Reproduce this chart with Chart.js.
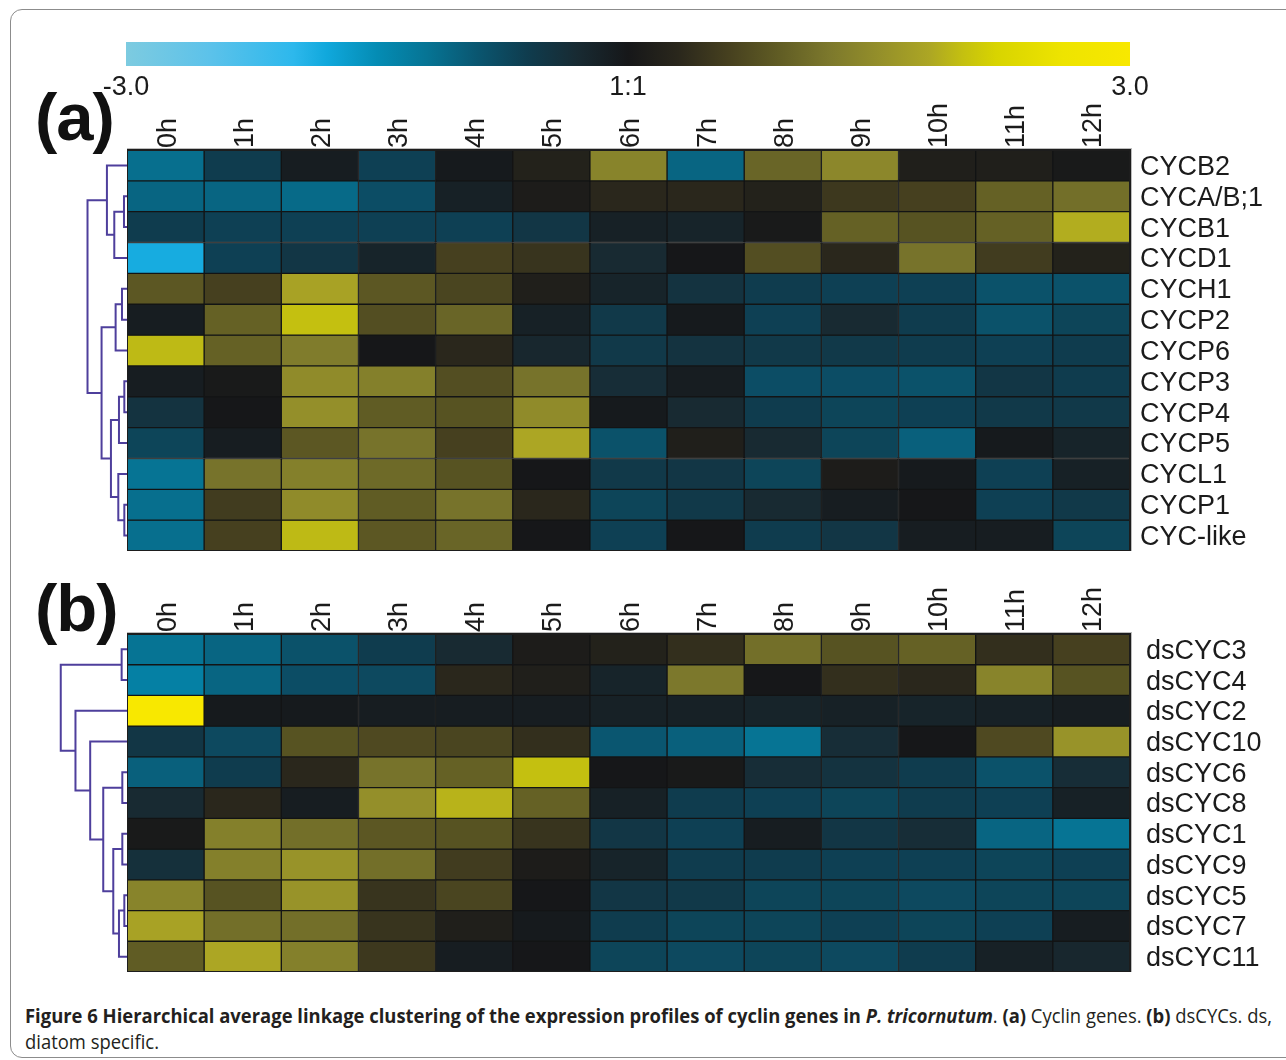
<!DOCTYPE html>
<html>
<head>
<meta charset="utf-8">
<script src="https://cdn.jsdelivr.net/npm/chart.js@4.4.1/dist/chart.umd.min.js"></script>
<style>
    html, body { margin: 0; padding: 0; background: #fff; }
    body { width: 1286px; height: 1060px; position: relative; overflow: hidden; }
    .frame { position: absolute; left: 10px; top: 9px; width: 1320px; height: 1049px; border: 1px solid #8c8c8c; border-radius: 12px; box-sizing: border-box; }
    canvas { position: absolute; }
    .panel-tag { position: absolute; font: bold 67px 'Liberation Sans', Arial, sans-serif; line-height: 67px; color: #111; letter-spacing: -1px; }
    .caption { position: absolute; left: 25px; font-family: 'Open Sans', sans-serif; font-size: 20px; line-height: 26px; color: #231f20; white-space: nowrap; transform-origin: 0 0; }
</style>
</head>
<body>
<div class="frame"></div>
<canvas id="colorbar" width="1064" height="62" style="left:96px;top:42px"></canvas>

<div class="panel-tag" style="left:35px;top:83px">(a)</div>
<canvas id="dendroA" width="87" height="401" style="left:40px;top:150px"></canvas>
<canvas id="heatA" width="1159" height="461" style="left:127px;top:90px"></canvas>

<div class="panel-tag" style="left:35px;top:574px">(b)</div>
<canvas id="dendroB" width="87" height="338" style="left:40px;top:634px"></canvas>
<canvas id="heatB" width="1159" height="398" style="left:127px;top:574px"></canvas>

<div class="caption" id="cap1" style="top:1003px"><b>Figure 6 Hierarchical average linkage clustering of the expression profiles of cyclin genes in <i>P. tricornutum</i></b>. <b>(a)</b> Cyclin genes. <b>(b)</b> dsCYCs. ds,</div>
<div class="caption" id="cap2" style="top:1029px">diatom specific.</div>

<script>
// time points (columns) and gene names (rows)
const hours = ['0h', '1h', '2h', '3h', '4h', '5h', '6h', '7h', '8h', '9h', '10h', '11h', '12h'];
const cyclinGenes = ['CYCB2', 'CYCA/B;1', 'CYCB1', 'CYCD1', 'CYCH1', 'CYCP2', 'CYCP6', 'CYCP3', 'CYCP4', 'CYCP5', 'CYCL1', 'CYCP1', 'CYC-like'];
const dsGenes = ['dsCYC3', 'dsCYC4', 'dsCYC2', 'dsCYC10', 'dsCYC6', 'dsCYC8', 'dsCYC1', 'dsCYC9', 'dsCYC5', 'dsCYC7', 'dsCYC11'];

// log ratios, one row per gene
const cyclinRatios = [
    [-1.15, -0.6, -0.1, -0.65, -0.05, 0.2, 1.35, -1.05, 1.0, 1.4, 0.15, 0.15, 0.05],
    [-1.05, -1.05, -1.1, -0.8, -0.15, 0.1, 0.3, 0.3, 0.2, 0.5, 0.6, 0.95, 1.1],
    [-0.6, -0.65, -0.65, -0.65, -0.65, -0.5, -0.15, -0.2, 0.05, 0.95, 0.8, 0.95, 1.85],
    [-1.85, -0.65, -0.5, -0.2, 0.6, 0.45, -0.3, 0.0, 0.75, 0.3, 1.15, 0.55, 0.2],
    [0.85, 0.6, 1.75, 0.85, 0.65, 0.15, -0.2, -0.45, -0.6, -0.65, -0.65, -0.85, -0.85],
    [-0.1, 0.95, 2.0, 0.75, 1.0, -0.15, -0.55, -0.05, -0.65, -0.3, -0.6, -0.85, -0.7],
    [1.95, 0.95, 1.25, 0.0, 0.3, -0.25, -0.55, -0.45, -0.55, -0.55, -0.6, -0.65, -0.6],
    [-0.1, 0.05, 1.45, 1.3, 0.75, 1.15, -0.35, -0.1, -0.8, -0.8, -0.85, -0.5, -0.6],
    [-0.45, 0.0, 1.5, 0.9, 0.8, 1.45, -0.05, -0.3, -0.6, -0.7, -0.65, -0.55, -0.55],
    [-0.7, -0.1, 0.85, 1.15, 0.6, 1.8, -0.85, 0.15, -0.3, -0.7, -1.0, -0.05, -0.2],
    [-1.2, 1.15, 1.3, 1.05, 0.8, 0.0, -0.55, -0.5, -0.7, 0.1, -0.05, -0.65, -0.15],
    [-1.15, 0.55, 1.45, 0.9, 1.15, 0.3, -0.7, -0.55, -0.3, -0.1, 0.0, -0.65, -0.55],
    [-1.15, 0.6, 1.95, 0.85, 1.0, 0.0, -0.65, 0.0, -0.6, -0.5, -0.1, -0.1, -0.7],
];
const dsRatios = [
    [-1.2, -1.05, -0.85, -0.6, -0.3, 0.1, 0.2, 0.4, 1.1, 0.8, 0.95, 0.4, 0.6],
    [-1.35, -1.05, -0.8, -0.75, 0.3, 0.15, -0.2, 1.2, 0.0, 0.4, 0.3, 1.35, 0.8],
    [3.0, -0.05, -0.05, -0.1, -0.1, -0.1, -0.15, -0.15, -0.2, -0.15, -0.2, -0.15, -0.1],
    [-0.5, -0.75, 0.8, 0.7, 0.65, 0.4, -0.9, -1.0, -1.2, -0.35, 0.0, 0.7, 1.55],
    [-1.0, -0.6, 0.3, 1.15, 0.95, 2.0, 0.0, 0.05, -0.35, -0.45, -0.6, -0.85, -0.35],
    [-0.3, 0.3, -0.1, 1.5, 1.9, 0.95, -0.15, -0.6, -0.65, -0.7, -0.6, -0.65, -0.15],
    [0.05, 1.3, 1.1, 0.85, 0.8, 0.45, -0.5, -0.65, -0.1, -0.5, -0.35, -1.05, -1.2],
    [-0.4, 1.3, 1.55, 1.1, 0.55, 0.1, -0.2, -0.6, -0.6, -0.65, -0.65, -0.7, -0.65],
    [1.35, 0.8, 1.55, 0.45, 0.65, 0.0, -0.5, -0.55, -0.7, -0.7, -0.75, -0.7, -0.7],
    [1.75, 1.1, 1.1, 0.45, 0.15, -0.05, -0.6, -0.7, -0.7, -0.65, -0.7, -0.65, -0.1],
    [0.9, 1.8, 1.3, 0.5, -0.1, 0.0, -0.7, -0.75, -0.7, -0.75, -0.6, -0.15, -0.25],
];

// dendrograms: [left node, right node, merge height]; nodes >= n are earlier merges
const cyclinLinkage = [
    [1, 2, 0.045], [13, 3, 0.19], [0, 14, 0.30],
    [4, 5, 0.075], [16, 6, 0.17],
    [7, 8, 0.04], [18, 9, 0.12], [11, 12, 0.04], [10, 20, 0.13], [19, 21, 0.24],
    [17, 22, 0.38], [15, 23, 0.59],
];
const dsLinkage = [
    [0, 1, 0.08], [8, 9, 0.04], [12, 10, 0.12], [6, 7, 0.07], [14, 13, 0.205],
    [4, 5, 0.07], [16, 15, 0.355], [3, 17, 0.55], [2, 18, 0.77], [11, 19, 0.99],
];

// colour key
const colorStopValues = [-3, -2.5, -2, -1.8, -1.5, -1.2, -0.9, -0.6, -0.3, 0, 0.3, 0.6, 0.9, 1.2, 1.5, 1.8, 2.0, 2.2, 2.6, 3];
const colorStopColors = ['#7dcbe0', '#5cc2ea', '#2db8ec', '#10a8dc', '#048cb4', '#067494', '#0a5670', '#0f3c4e', '#182a32', '#161719',
    '#2a271c', '#46401f', '#605c24', '#7c782c', '#948f2a', '#aca624', '#c4c010', '#d8d400', '#eee400', '#f8e800'];
const colorbarTicks = [-3, 0, 3];
const colorbarTickLabels = ['-3.0', '1:1', '3.0'];

const labelFont = { family: "'Liberation Sans', Arial, sans-serif", size: 27 };
const labelColor = '#1b1b1b';
const dendroColor = '#4e3f9c';

function hexToRgb(h) {
    return [1, 3, 5].map((i) => parseInt(h.slice(i, i + 2), 16));
}

function valueToColor(v) {
    const vals = colorStopValues;
    if (v <= vals[0]) return colorStopColors[0];
    if (v >= vals[vals.length - 1]) return colorStopColors[vals.length - 1];
    let i = 0;
    while (v > vals[i + 1]) i++;
    const t = (v - vals[i]) / (vals[i + 1] - vals[i]);
    const a = hexToRgb(colorStopColors[i]);
    const b = hexToRgb(colorStopColors[i + 1]);
    const c = a.map((x, k) => Math.round(x + (b[k] - x) * t));
    return `rgb(${c[0]}, ${c[1]}, ${c[2]})`;
}

const heatFrame = {
    id: 'heatFrame',
    afterDatasetsDraw(chart) {
        const { ctx, chartArea: a } = chart;
        ctx.save();
        ctx.strokeStyle = '#bdbdbd';
        ctx.lineWidth = 1;
        ctx.strokeRect(a.left - 1.5, a.top - 1.5, a.width + 3, a.height + 3);
        ctx.strokeStyle = '#1d1d1d';
        ctx.lineWidth = 2;
        ctx.strokeRect(a.left, a.top, a.width, a.height);
        ctx.restore();
    },
};

function makeHeatmap(canvasId, genes, ratios, labelPad) {
    const datasets = genes.map((gene, r) => ({
        label: gene,
        data: hours.map(() => [r, r + 1]),
        backgroundColor: ratios[r].map(valueToColor),
        borderColor: '#131415',
        borderWidth: 1,
        borderSkipped: false,
        grouped: false,
        barPercentage: 1,
        categoryPercentage: 1,
    }));
    return new Chart(document.getElementById(canvasId), {
        type: 'bar',
        data: { labels: hours, datasets },
        options: {
            responsive: false,
            animation: false,
            events: [],
            layout: { padding: 0 },
            plugins: { legend: { display: false }, tooltip: { enabled: false } },
            scales: {
                x: {
                    position: 'top',
                    grid: { display: false, drawTicks: false },
                    border: { display: false },
                    ticks: {
                        autoSkip: false,
                        minRotation: 90,
                        maxRotation: 90,
                        padding: 2,
                        labelOffset: 35,
                        color: labelColor,
                        font: labelFont,
                    },
                    afterFit(s) {
                        s.height = 60;
                        s.paddingLeft = 0;
                        s.paddingRight = 0;
                    },
                },
                y: { display: false, min: 0, max: genes.length, reverse: true },
                genes: {
                    type: 'category',
                    labels: genes,
                    position: 'right',
                    offset: true,
                    grid: { display: false, drawTicks: false },
                    border: { display: false },
                    ticks: { autoSkip: false, padding: labelPad, labelOffset: 2, color: labelColor, font: labelFont },
                    afterFit(s) {
                        s.width = 156;
                        s.paddingTop = 0;
                        s.paddingBottom = 0;
                    },
                },
            },
        },
        plugins: [heatFrame],
    });
}

function makeDendrogram(canvasId, linkage, n) {
    const pos = [];
    const hgt = [];
    for (let i = 0; i < n; i++) {
        pos.push(i + 0.5);
        hgt.push(0);
    }
    const datasets = linkage.map(([a, b, h]) => {
        const ds = {
            data: [
                { x: hgt[a], y: pos[a] },
                { x: h, y: pos[a] },
                { x: h, y: pos[b] },
                { x: hgt[b], y: pos[b] },
            ],
            showLine: true,
            borderColor: dendroColor,
            borderWidth: 2,
            pointRadius: 0,
            tension: 0,
        };
        pos.push((pos[a] + pos[b]) / 2);
        hgt.push(h);
        return ds;
    });
    return new Chart(document.getElementById(canvasId), {
        type: 'scatter',
        data: { datasets },
        options: {
            responsive: false,
            animation: false,
            events: [],
            layout: { padding: 0 },
            plugins: { legend: { display: false }, tooltip: { enabled: false } },
            scales: {
                x: { type: 'linear', display: false, min: 0, max: 1.3, reverse: true },
                y: { type: 'linear', display: false, min: 0, max: n, reverse: true },
            },
        },
    });
}

function makeColorbar() {
    return new Chart(document.getElementById('colorbar'), {
        type: 'bar',
        data: {
            labels: [''],
            datasets: [{
                data: [[colorStopValues[0], colorStopValues[colorStopValues.length - 1]]],
                backgroundColor(ctx) {
                    const chart = ctx.chart;
                    if (!chart.chartArea) return null;
                    const xs = chart.scales.x;
                    const lo = colorStopValues[0];
                    const hi = colorStopValues[colorStopValues.length - 1];
                    const g = chart.ctx.createLinearGradient(xs.getPixelForValue(lo), 0, xs.getPixelForValue(hi), 0);
                    colorStopValues.forEach((v, i) => g.addColorStop((v - lo) / (hi - lo), colorStopColors[i]));
                    return g;
                },
                borderWidth: 0,
                barPercentage: 1,
                categoryPercentage: 1,
            }],
        },
        options: {
            indexAxis: 'y',
            responsive: false,
            animation: false,
            events: [],
            layout: { padding: { left: 30, right: 30, top: 0, bottom: 0 } },
            plugins: { legend: { display: false }, tooltip: { enabled: false } },
            scales: {
                x: {
                    type: 'linear',
                    min: -3,
                    max: 3,
                    grid: { display: false, drawTicks: false },
                    border: { display: false },
                    afterBuildTicks(s) {
                        s.ticks = colorbarTicks.map((v) => ({ value: v }));
                    },
                    ticks: {
                        padding: 5,
                        color: labelColor,
                        font: labelFont,
                        callback(v, i) {
                            return colorbarTickLabels[i];
                        },
                    },
                    afterFit(s) {
                        s.height = 38;
                        s.paddingLeft = 0;
                        s.paddingRight = 0;
                    },
                },
                y: { display: false },
            },
        },
    });
}

makeColorbar();
makeDendrogram('dendroA', cyclinLinkage, cyclinGenes.length);
makeHeatmap('heatA', cyclinGenes, cyclinRatios, 10);
makeDendrogram('dendroB', dsLinkage, dsGenes.length);
makeHeatmap('heatB', dsGenes, dsRatios, 16);

// squeeze the caption to the width it has in the figure
function fitCaption() {
    const cap1 = document.getElementById('cap1');
    const cap2 = document.getElementById('cap2');
    cap1.style.transform = '';
    const w = cap1.getBoundingClientRect().width;
    const k = 1247 / w;
    cap1.style.transform = `scaleX(${k})`;
    cap2.style.transform = `scaleX(${k})`;
}
fitCaption();
if (document.fonts && document.fonts.ready) {
    document.fonts.ready.then(fitCaption);
}
</script>
</body>
</html>
